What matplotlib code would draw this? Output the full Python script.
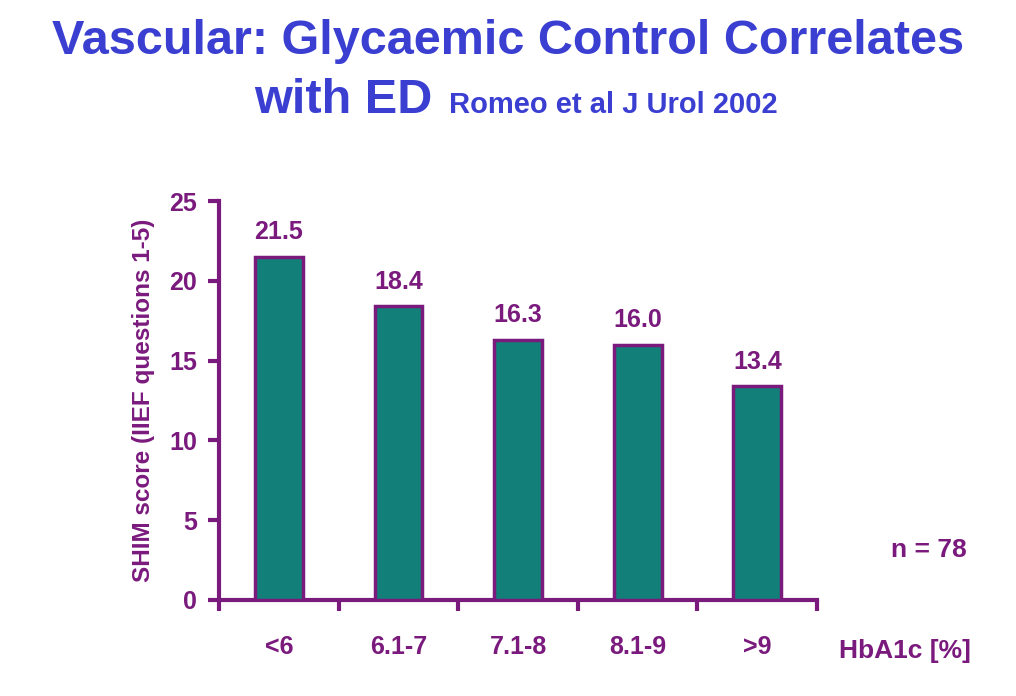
import matplotlib.pyplot as plt
import numpy as np

categories = ["<6", "6.1-7", "7.1-8", "8.1-9", ">9"]
shim_scores = [21.5, 18.4, 16.3, 16.0, 13.4]
y_ticks = [0, 5, 10, 15, 20, 25]

purple = '#7a1a7d'
teal = '#137f79'
blue = '#3a3fd2'

plt.rcParams['font.family'] = ['Liberation Sans', 'DejaVu Sans']

fig = plt.figure(figsize=(10.16, 6.96), dpi=100)
ax = fig.add_axes([0.2156, 0.138, 0.5886, 0.573])

x = np.arange(len(categories))
ax.bar(x, shim_scores, width=0.4, color=teal, edgecolor=purple, linewidth=2.5, zorder=3)

for xi, v in zip(x, shim_scores):
    ax.annotate(f"{v:.1f}", (xi, v), xytext=(0, 9), textcoords='offset points',
                ha='center', va='bottom', fontsize=18, fontweight='bold', color=purple)

ax.set_xlim(-0.5, len(categories) - 0.5)
ax.set_ylim(0, 25)
ax.set_yticks(y_ticks)
ax.set_xticks(x)
ax.set_xticklabels(categories)
ax.set_xticks(np.arange(-0.5, len(categories)), minor=True)

for s in ['top', 'right']:
    ax.spines[s].set_visible(False)
for s in ['left', 'bottom']:
    ax.spines[s].set_color(purple)
    ax.spines[s].set_linewidth(3)

ax.tick_params(axis='y', colors=purple, width=3, length=8, labelsize=18, pad=8)
ax.tick_params(axis='x', which='major', length=0, pad=25, labelsize=18, colors=purple)
ax.tick_params(axis='x', which='minor', length=8, width=3, color=purple)
for lbl in ax.get_yticklabels() + ax.get_xticklabels():
    lbl.set_fontweight('bold')

ax.set_ylabel("SHIM score (IIEF questions 1-5)", fontsize=17.5, fontweight='bold',
              color=purple, labelpad=10)

fig.text(0.5, 0.94, "Vascular: Glycaemic Control Correlates", ha='center', va='center',
         fontsize=35, fontweight='bold', color=blue)
fig.text(0.426, 0.855, "with ED", ha='right', va='center', fontsize=35,
         fontweight='bold', color=blue)
fig.text(0.442, 0.849, "Romeo et al J Urol 2002", ha='left', va='center', fontsize=21,
         fontweight='bold', color=blue)

fig.text(0.914, 0.21, "n = 78", ha='center', va='center', fontsize=19,
         fontweight='bold', color=purple)
fig.text(0.891, 0.065, "HbA1c [%]", ha='center', va='center', fontsize=19,
         fontweight='bold', color=purple)

fig.savefig("out.png", dpi=100)
